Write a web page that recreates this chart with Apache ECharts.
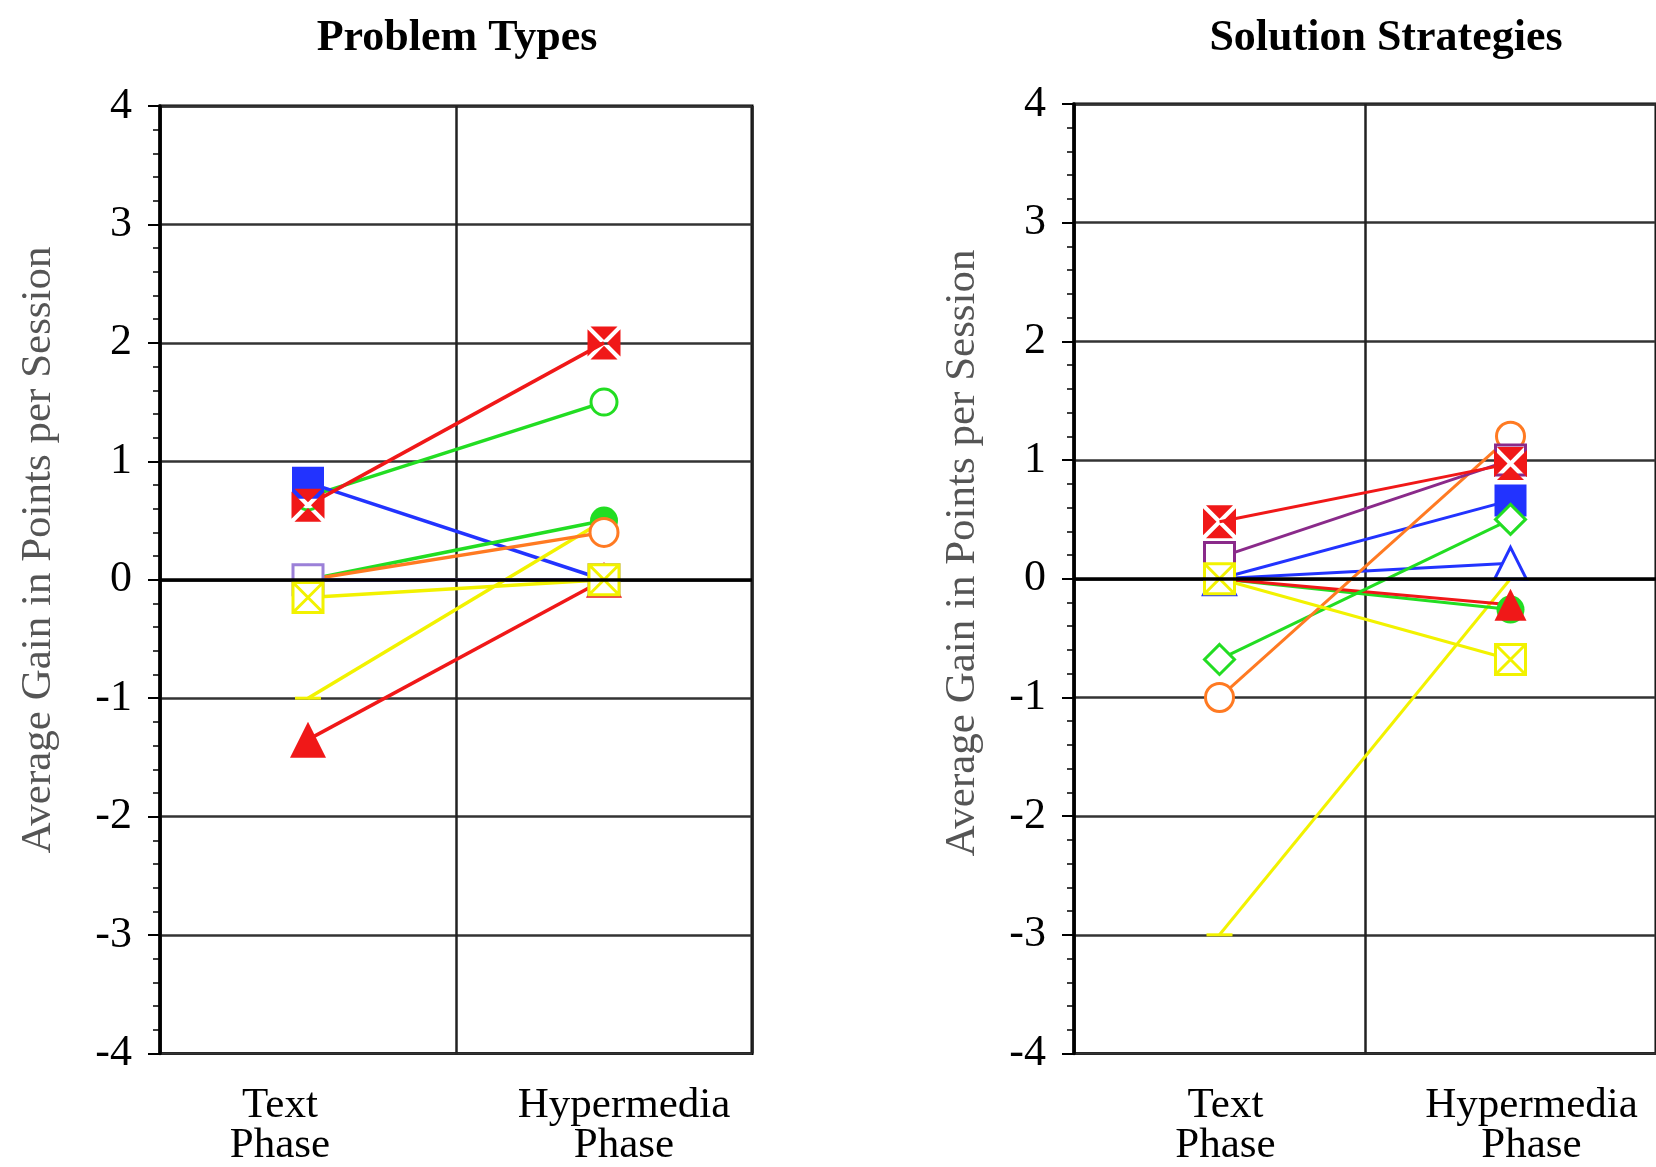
<!DOCTYPE html>
<html>
<head>
<meta charset="utf-8">
<script src="https://cdn.jsdelivr.net/npm/echarts@6/dist/echarts.min.js"></script>
<style>
  html, body { margin: 0; padding: 0; background: #fff; overflow: hidden; }
  #chart { width: 1656px; height: 1167px; }
</style>
</head>
<body>
<div id="chart"></div>
<script>
// categories + axis range
const phases = ['Text\nPhase', 'Hypermedia\nPhase']
const yMin = -4
const yMax = 4
const yStep = 1

// Problem Types (left panel) - [text phase, hypermedia phase]
const ptPurpleSquare = [0, 0]
const ptBlueTriangle = [0, 0]
const ptYellowCross = [-0.15, 0]
const ptYellowDash = [-1.0, 0.5]
const ptGreenDot = [0, 0.5]
const ptOrangeCircle = [0, 0.4]
const ptGreenCircle = [0.7, 1.5]
const ptBlueSquare = [0.82, 0]
const ptRedCross = [0.63, 2.0]
const ptRedTriangle = [-1.35, 0]

// Solution Strategies (right panel)
const ssYellowDash = [-3.0, 0.0]
const ssGreenDot = [0, -0.26]
const ssRedTriangle = [0, -0.22]
const ssYellowCross = [0, -0.68]
const ssBlueTriangle = [0, 0.13]
const ssBlueSquare = [0, 0.66]
const ssGreenDiamond = [-0.68, 0.5]
const ssOrangeCircle = [-1.0, 1.2]
const ssPurpleSquare = [0.18, 1.0]
const ssRedCross = [0.48, 0.97]

const RED = '#f01818'
const GREEN = '#22dd22'
const BLUE = '#2233ff'
const YELLOW = '#f2f200'
const ORANGE = '#ff7a22'
const PURPLE = '#8a2a8a'
const LAVENDER = '#9b80d8'
const FONT = '"Liberation Serif", "Times New Roman", serif'

// red square with white X cut out
const CROSS_FILLED = 'path://M9,0 L91,0 L50,41 Z M100,9 L100,91 L59,50 Z M91,100 L9,100 L50,59 Z M0,91 L0,9 L41,50 Z'
const CROSS_BOX = 'path://M0,0 L100,0 L100,100 L0,100 Z M0,0 L100,100 M100,0 L0,100'
const DASH = 'path://M0,0 L100,0 L100,10 L0,10 Z'

const chart = echarts.init(document.getElementById('chart'))

// hollow = white fill with coloured outline
function mk(name, data, idx, color, symbol, size, hollow) {
  return {
    name: name,
    type: 'line',
    data: data,
    xAxisIndex: idx,
    yAxisIndex: idx,
    symbol: symbol,
    symbolSize: size,
    showSymbol: true,
    lineStyle: { color: color, width: idx === 0 ? 3.5 : 3 },
    itemStyle: hollow ? { color: '#fff', borderColor: color, borderWidth: 3 } : { color: color },
    emphasis: { disabled: true }
  }
}

function xAx(idx, offsets) {
  return {
    type: 'category',
    gridIndex: idx,
    boundaryGap: true,
    data: phases.map((p, i) => ({
      value: p,
      textStyle: { padding: offsets[i] < 0 ? [0, -2 * offsets[i], 0, 0] : [0, 0, 0, 2 * offsets[i]] }
    })),
    axisLine: { show: false, onZero: false },
    axisTick: { show: false },
    splitLine: { show: true, lineStyle: { color: '#222', width: 2.5 } },
    axisLabel: {
      interval: 0,
      margin: 32,
      color: '#000',
      fontFamily: FONT,
      fontSize: 43,
      lineHeight: 40
    }
  }
}

function yAx(idx) {
  return {
    type: 'value',
    gridIndex: idx,
    min: yMin,
    max: yMax,
    interval: yStep,
    axisLine: { show: true, lineStyle: { color: '#000', width: 3.5 } },
    axisTick: { show: true, length: 12, lineStyle: { color: '#000', width: 2 } },
    minorTick: { show: true, splitNumber: 5, length: 7, lineStyle: { color: '#000', width: 1.5 } },
    splitLine: { show: true, lineStyle: { color: '#333', width: 2.5 } },
    axisLabel: { margin: 28, color: '#000', fontFamily: FONT, fontSize: 44 }
  }
}

const zeroLine = {
  silent: true,
  symbol: 'none',
  label: { show: false },
  lineStyle: { color: '#000', width: 3.5, type: 'solid' },
  data: [{ yAxis: 0 }]
}

const left = [
  mk('ptGreenCircle', ptGreenCircle, 0, GREEN, 'circle', 26, true),
  mk('ptBlueSquare', ptBlueSquare, 0, BLUE, 'rect', 32),
  mk('ptRedTriangle', ptRedTriangle, 0, RED, 'triangle', 36),
  mk('ptBlueTriangle', ptBlueTriangle, 0, BLUE, 'triangle', 26, true),
  mk('ptYellowDash', ptYellowDash, 0, YELLOW, DASH, [26, 3]),
  mk('ptGreenDot', ptGreenDot, 0, GREEN, 'circle', 28),
  mk('ptOrangeCircle', ptOrangeCircle, 0, ORANGE, 'circle', 28, true),
  mk('ptPurpleSquare', ptPurpleSquare, 0, LAVENDER, 'rect', 30, true),
  mk('ptYellowCross', ptYellowCross, 0, YELLOW, CROSS_BOX, 30, true),
  mk('ptRedCross', ptRedCross, 0, RED, CROSS_FILLED, 33)
]
left[0].markLine = zeroLine

const right = [
  mk('ssYellowDash', ssYellowDash, 1, YELLOW, DASH, [26, 3]),
  mk('ssGreenDot', ssGreenDot, 1, GREEN, 'circle', 28),
  mk('ssRedTriangle', ssRedTriangle, 1, RED, 'triangle', 32),
  mk('ssBlueSquare', ssBlueSquare, 1, BLUE, 'rect', 32),
  mk('ssBlueTriangle', ssBlueTriangle, 1, BLUE, 'triangle', 32, true),
  mk('ssGreenDiamond', ssGreenDiamond, 1, GREEN, 'diamond', 30, true),
  mk('ssOrangeCircle', ssOrangeCircle, 1, ORANGE, 'circle', 28, true),
  mk('ssPurpleSquare', ssPurpleSquare, 1, PURPLE, 'rect', 30, true),
  mk('ssYellowCross', ssYellowCross, 1, YELLOW, CROSS_BOX, 30, true),
  mk('ssRedCross', ssRedCross, 1, RED, CROSS_FILLED, 33)
]
right[0].markLine = zeroLine

const option = {
  animation: false,
  backgroundColor: '#fff',
  grid: [
    { left: 160, right: 904, top: 106, bottom: 113, show: true, borderColor: '#000', borderWidth: 3 },
    { left: 1074, right: -6, top: 104, bottom: 113, show: true, borderColor: '#000', borderWidth: 3 }
  ],
  xAxis: [xAx(0, [-28, 20]), xAx(1, [6, 21])],
  yAxis: [yAx(0), yAx(1)],
  graphic: [
    { type: 'text', x: 457, y: 39, style: { text: 'Problem Types', font: 'bold 44px ' + FONT, fill: '#000', align: 'center', verticalAlign: 'middle' } },
    { type: 'text', x: 1386, y: 39, style: { text: 'Solution Strategies', font: 'bold 44px ' + FONT, fill: '#000', align: 'center', verticalAlign: 'middle' } },
    { type: 'text', x: 39, y: 550, rotation: Math.PI / 2, style: { text: 'Average Gain in Points per Session', font: '43px ' + FONT, fill: '#555', align: 'center', verticalAlign: 'middle' } },
    { type: 'text', x: 963, y: 553, rotation: Math.PI / 2, style: { text: 'Average Gain in Points per Session', font: '43px ' + FONT, fill: '#555', align: 'center', verticalAlign: 'middle' } }
  ],
  series: left.concat(right)
}

chart.setOption(option)
</script>
</body>
</html>
